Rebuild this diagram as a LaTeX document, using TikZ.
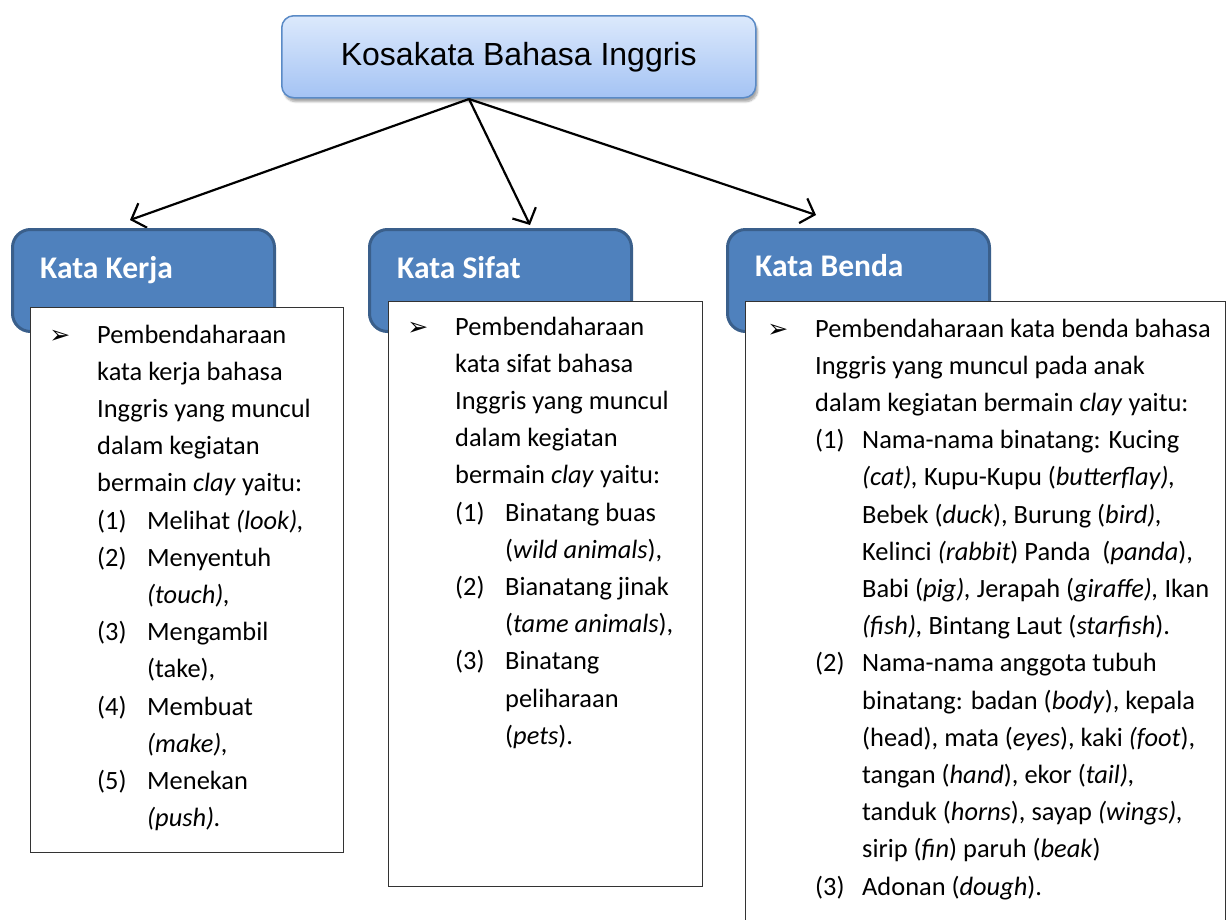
\documentclass[tikz,border=0pt]{standalone}
\usepackage{fontspec}
\setmainfont{Carlito}
\newfontfamily\arialf{Liberation Sans}
\newfontfamily\djv{DejaVu Sans}
\usetikzlibrary{arrows.meta,shadows.blur}
\definecolor{hdrblue}{HTML}{4F81BD}
\definecolor{hdrborder}{HTML}{3A5F8B}
\definecolor{toptop}{HTML}{DCE9FC}
\definecolor{topbot}{HTML}{A4C3F4}
\definecolor{topborder}{HTML}{5A8AC6}
\newcommand\numlab[2][50pt]{\makebox[#1][l]{#2}}
\newcommand\lstind[1][50pt]{\hspace*{#1}}
\newcommand\bul{\llap{\raisebox{0pt}{\djv\fontsize{25}{25}\selectfont ➢}\hspace{27pt}}}
\begin{document}
\begin{tikzpicture}[x=1pt,y=-1pt,
  topbox/.style={draw=topborder, line width=1.5pt, rounded corners=12pt,
    top color=toptop, bottom color=topbot, minimum width=474pt, minimum height=82pt,
    blur shadow={shadow xshift=2pt,shadow yshift=-4pt,shadow blur steps=6,shadow opacity=35}},
  hdrbox/.style={fill=hdrblue, draw=hdrborder, line width=3pt, rounded corners=18pt,
    minimum width=262pt, minimum height=102pt, inner sep=0pt, anchor=north west},
  hdrtext/.style={font=\fontsize{31.5}{36}\selectfont\bfseries, text=white, anchor=base west, inner sep=0pt},
  listbox/.style={draw=black!80, line width=1.3pt, fill=white, inner sep=0pt, anchor=north west},
  listtext/.style={font=\fontsize{26.4}{37.2}\selectfont, align=left, anchor=base west, inner sep=0pt},
  arr/.style={-{Straight Barb[length=12pt,width=26pt]}, line width=2.2pt}]
\useasboundingbox (0,0) rectangle (1227,919);

\node[topbox, anchor=north west] (top) at (281,15) {\raisebox{5pt}{\arialf\fontsize{32}{38}\selectfont Kosakata Bahasa Inggris}};

\coordinate (hub) at (469,99);
\coordinate (tipk) at (130,220);
\coordinate (tips) at (530,225);
\coordinate (tipb) at (816,215);
\draw[arr] (hub) -- (tipk);
\draw[arr] (hub) -- (tips);
\draw[arr] (hub) -- (tipb);

\node[hdrbox] (kerja) at (11,228) {};
\node[hdrbox] (sifat) at (368,228) {};
\node[hdrbox] (benda) at (726,228) {};
\node[hdrtext] (kerjah) at (40,278) {Kata Kerja};
\node[hdrtext] (sifath) at (397,278) {Kata Sifat};
\node[hdrtext] (bendah) at (755,276) {Kata Benda};

\node[listbox, minimum width=313pt, minimum height=545pt] (kerjab) at (30,307) {};
\node[listbox, minimum width=314pt, minimum height=585pt] (sifatb) at (388,301) {};
\node[listbox, minimum width=480pt, minimum height=660pt] (bendab) at (745,301) {};

% base anchor = baseline of the last line
\node[listtext] (kerjat) at (97,826.6) {\bul Pembendaharaan\\
kata kerja bahasa\\
Inggris yang muncul\\
dalam kegiatan\\
bermain \textit{clay} yaitu:\\
\numlab{(1)}Melihat \textit{(look),}\\
\numlab{(2)}Menyentuh\\
\lstind\textit{(touch),}\\
\numlab{(3)}Mengambil\\
\lstind(take),\\
\numlab{(4)}Membuat\\
\lstind\textit{(make),}\\
\numlab{(5)}Menekan\\
\lstind\textit{(push).}};

\node[listtext] (sifatt) at (455,744.2) {\bul Pembendaharaan\\
kata sifat bahasa\\
Inggris yang muncul\\
dalam kegiatan\\
bermain \textit{clay} yaitu:\\
\numlab{(1)}Binatang buas\\
\lstind(\textit{wild animals}),\\
\numlab{(2)}Bianatang jinak\\
\lstind(\textit{tame animals}),\\
\numlab{(3)}Binatang\\
\lstind peliharaan\\
\lstind(\textit{pets}).};

\node[listtext] (bendat) at (815,895) {\bul Pembendaharaan kata benda bahasa\\
Inggris yang muncul pada anak\\
dalam kegiatan bermain \textit{clay} yaitu:\\
\numlab[47pt]{(1)}Nama-nama binatang: Kucing\\
\lstind[47pt]\textit{(cat),} Kupu-Kupu (\textit{butterflay),}\\
\lstind[47pt]Bebek (\textit{duck}), Burung (\textit{bird),}\\
\lstind[47pt]Kelinci \textit{(rabbit}) Panda\ \ (\textit{panda}),\\
\lstind[47pt]Babi (\textit{pig),} Jerapah (\textit{giraffe),} Ikan\\
\lstind[47pt]\textit{(fish),} Bintang Laut (\textit{starfish}).\\
\numlab[47pt]{(2)}Nama-nama anggota tubuh\\
\lstind[47pt]binatang: badan (\textit{body}), kepala\\
\lstind[47pt](head), mata (\textit{eyes}), kaki \textit{(foot}),\\
\lstind[47pt]tangan (\textit{hand}), ekor (\textit{tail),}\\
\lstind[47pt]tanduk (\textit{horns}), sayap \textit{(wings),}\\
\lstind[47pt]sirip (\textit{fin}) paruh (\textit{beak})\\
\numlab[47pt]{(3)}Adonan (\textit{dough}).};
\end{tikzpicture}
\end{document}
